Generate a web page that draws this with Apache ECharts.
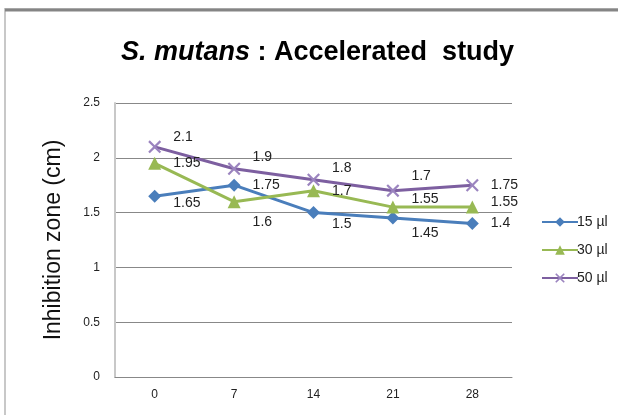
<!DOCTYPE html>
<html><head><meta charset="utf-8">
<script src="https://cdn.jsdelivr.net/npm/echarts@6/dist/echarts.min.js"></script>
<style>html,body{margin:0;padding:0;background:#fff}#c{width:618px;height:415px}</style>
</head><body><div id="c"></div>
<script>
const categories = ['0', '7', '14', '21', '28'];
const s15 = [1.65, 1.75, 1.5, 1.45, 1.4];
const s30 = [1.95, 1.6, 1.7, 1.55, 1.55];
const s50 = [2.1, 1.9, 1.8, 1.7, 1.75];
const seriesNames = ['15 µl', '30 µl', '50 µl'];
const yTicks = [0, 0.5, 1, 1.5, 2, 2.5];

// label vertical offsets (style only)
const off15 = [7, 0, 12, 15, 0];
const off30 = [0, 21, 0, -8, -5];
const off50 = [-10, -12, -12, -15, 0];

const font = '"Liberation Sans", Arial, sans-serif';
const xPath = 'path://M0,1.2 L1.2,0 L5,3.8 L8.8,0 L10,1.2 L6.2,5 L10,8.8 L8.8,10 L5,6.2 L1.2,10 L0,8.8 L3.8,5 Z';

function mk(vals, offs) {
  return vals.map((v, i) => ({ value: v, label: { offset: [0, offs[i]] } }));
}
function lbl() {
  return { show: true, position: 'right', distance: 12, color: '#222', fontSize: 14, fontFamily: font };
}

const chart = echarts.init(document.getElementById('c'));
chart.setOption({
  animation: false,
  title: {
    text: '{i|S. mutans} : Accelerated  study',
    left: 116, top: 34,
    textStyle: {
      fontFamily: font, fontSize: 27, fontWeight: 'bold', color: '#000',
      rich: { i: { fontFamily: font, fontSize: 27, fontWeight: 'bold', fontStyle: 'italic', color: '#000' } }
    }
  },
  graphic: [
    { type: 'rect', shape: { x: 5, y: 9, width: 640, height: 430 }, style: { fill: 'none', stroke: '#c8c8c8', lineWidth: 2 } },
    { type: 'line', shape: { x1: 5, y1: 10, x2: 618, y2: 10 }, style: { stroke: '#858585', lineWidth: 3 } }
  ],
  grid: { left: 115, top: 103, width: 397, height: 274, containLabel: false },
  legend: {
    orient: 'vertical', left: 536, top: 210, itemGap: 14, itemWidth: 36, itemHeight: 12,
    textStyle: { fontFamily: font, fontSize: 14, color: '#222', padding: [0, 0, 0, -6] },
    data: seriesNames
  },
  xAxis: {
    type: 'category', data: categories, boundaryGap: true,
    axisLine: { lineStyle: { color: '#888', width: 1 } },
    axisTick: { show: false },
    axisLabel: { color: '#222', fontSize: 12, fontFamily: font, margin: 12 }
  },
  yAxis: {
    type: 'value', min: 0, max: 2.5, interval: 0.5,
    name: 'Inhibition zone (cm)', nameLocation: 'middle', nameGap: 50,
    nameTextStyle: { fontFamily: font, fontSize: 23, color: '#111' },
    axisLine: { show: true, lineStyle: { color: '#c8c8c8', width: 2 } },
    axisTick: { show: false },
    axisLabel: { color: '#222', fontSize: 12, fontFamily: font, margin: 15,
      formatter: v => yTicks.includes(v) ? String(v) : '' },
    splitLine: { lineStyle: { color: '#888', width: 1 } }
  },
  series: [
    { name: seriesNames[0], type: 'line', data: mk(s15, off15), symbol: 'diamond', symbolSize: 13,
      lineStyle: { color: '#4a7ebb', width: 3 }, itemStyle: { color: '#4a7ebb' }, label: lbl() },
    { name: seriesNames[1], type: 'line', data: mk(s30, off30), symbol: 'triangle', symbolSize: 13,
      lineStyle: { color: '#98b954', width: 3 }, itemStyle: { color: '#98b954' }, label: lbl() },
    { name: seriesNames[2], type: 'line', data: mk(s50, off50), symbol: xPath, symbolSize: 13,
      lineStyle: { color: '#7d5fa0', width: 3 }, itemStyle: { color: '#9b84bf' }, label: lbl() }
  ]
});
</script></body></html>
